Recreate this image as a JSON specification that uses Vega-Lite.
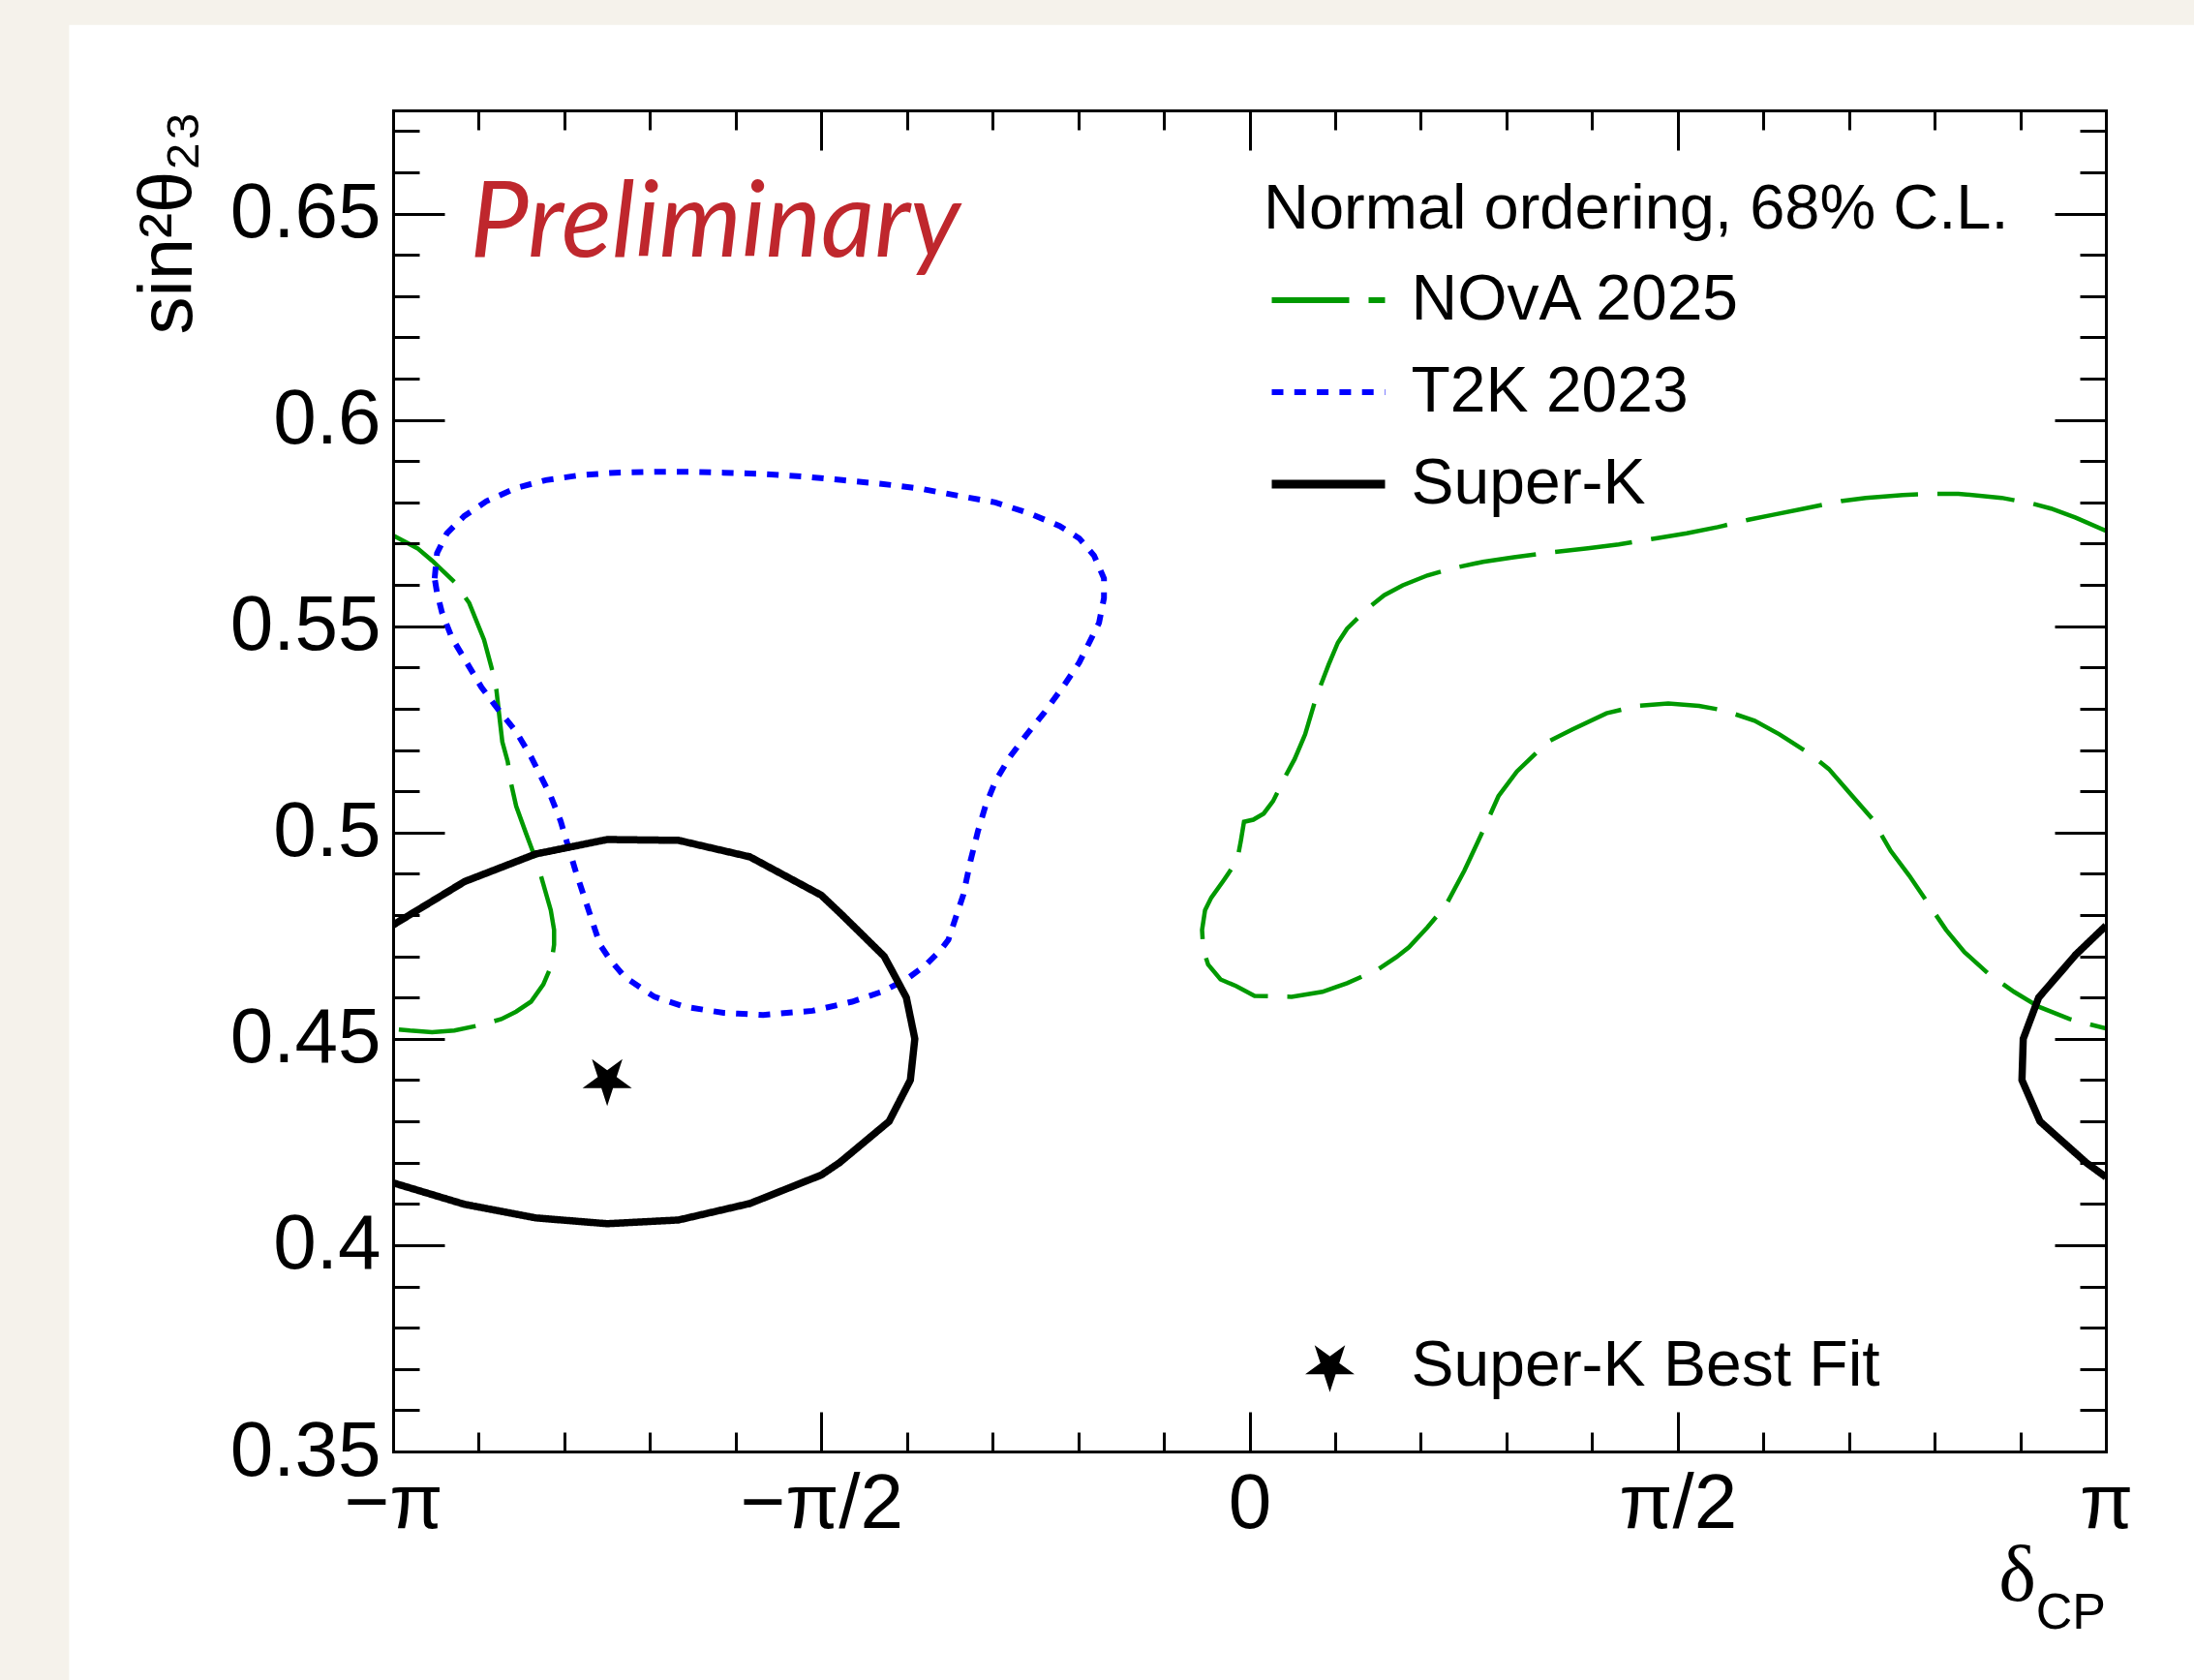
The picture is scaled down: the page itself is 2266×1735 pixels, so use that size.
{
  "$schema": "https://vega.github.io/schema/vega-lite/v6.json",
  "width": 1769,
  "height": 1385,
  "autosize": {"type": "none"},
  "padding": {"left": 406, "top": 114, "right": 91, "bottom": 236},
  "background": "#f5f2eb",
  "datasets": {
    "curves": [
      {"s":"NOvA 2025","p":"n1","k":0,"x":-3.1416,"y":0.572},
      {"s":"NOvA 2025","p":"n1","k":1,"x":-3.0527,"y":0.5689},
      {"s":"NOvA 2025","p":"n1","k":2,"x":-2.9987,"y":0.5659},
      {"s":"NOvA 2025","p":"n1","k":3,"x":-2.9167,"y":0.5607},
      {"s":"NOvA 2025","p":"n1","k":4,"x":-2.8623,"y":0.5556},
      {"s":"NOvA 2025","p":"n1","k":5,"x":-2.808,"y":0.5467},
      {"s":"NOvA 2025","p":"n1","k":6,"x":-2.7806,"y":0.54},
      {"s":"NOvA 2025","p":"n1","k":7,"x":-2.7627,"y":0.5346},
      {"s":"NOvA 2025","p":"n1","k":8,"x":-2.7536,"y":0.5292},
      {"s":"NOvA 2025","p":"n1","k":9,"x":-2.741,"y":0.522},
      {"s":"NOvA 2025","p":"n1","k":10,"x":-2.7212,"y":0.5172},
      {"s":"NOvA 2025","p":"n1","k":11,"x":-2.7084,"y":0.5118},
      {"s":"NOvA 2025","p":"n1","k":12,"x":-2.6901,"y":0.5064},
      {"s":"NOvA 2025","p":"n1","k":13,"x":-2.654,"y":0.4998},
      {"s":"NOvA 2025","p":"n1","k":14,"x":-2.627,"y":0.495},
      {"s":"NOvA 2025","p":"n1","k":15,"x":-2.5997,"y":0.4896},
      {"s":"NOvA 2025","p":"n1","k":16,"x":-2.5632,"y":0.4812},
      {"s":"NOvA 2025","p":"n1","k":17,"x":-2.551,"y":0.4764},
      {"s":"NOvA 2025","p":"n1","k":18,"x":-2.551,"y":0.4728},
      {"s":"NOvA 2025","p":"n1","k":19,"x":-2.5632,"y":0.4674},
      {"s":"NOvA 2025","p":"n1","k":20,"x":-2.5905,"y":0.4632},
      {"s":"NOvA 2025","p":"n1","k":21,"x":-2.6358,"y":0.459},
      {"s":"NOvA 2025","p":"n1","k":22,"x":-2.6901,"y":0.4566},
      {"s":"NOvA 2025","p":"n1","k":23,"x":-2.7445,"y":0.4548},
      {"s":"NOvA 2025","p":"n1","k":24,"x":-2.8174,"y":0.4534},
      {"s":"NOvA 2025","p":"n1","k":25,"x":-2.9167,"y":0.452},
      {"s":"NOvA 2025","p":"n1","k":26,"x":-2.9987,"y":0.4516},
      {"s":"NOvA 2025","p":"n1","k":27,"x":-3.0797,"y":0.452},
      {"s":"NOvA 2025","p":"n1","k":28,"x":-3.1416,"y":0.4524},

      {"s":"NOvA 2025","p":"n2","k":0,"x":3.1416,"y":0.5731},
      {"s":"NOvA 2025","p":"n2","k":1,"x":3.031,"y":0.5763},
      {"s":"NOvA 2025","p":"n2","k":2,"x":2.9405,"y":0.5785},
      {"s":"NOvA 2025","p":"n2","k":3,"x":2.8723,"y":0.5797},
      {"s":"NOvA 2025","p":"n2","k":4,"x":2.759,"y":0.5811},
      {"s":"NOvA 2025","p":"n2","k":5,"x":2.6006,"y":0.5821},
      {"s":"NOvA 2025","p":"n2","k":6,"x":2.5101,"y":0.5821},
      {"s":"NOvA 2025","p":"n2","k":7,"x":2.3967,"y":0.5818},
      {"s":"NOvA 2025","p":"n2","k":8,"x":2.2607,"y":0.5811},
      {"s":"NOvA 2025","p":"n2","k":9,"x":2.1702,"y":0.5803},
      {"s":"NOvA 2025","p":"n2","k":10,"x":2.0345,"y":0.5785},
      {"s":"NOvA 2025","p":"n2","k":11,"x":1.9211,"y":0.577},
      {"s":"NOvA 2025","p":"n2","k":12,"x":1.8306,"y":0.5758},
      {"s":"NOvA 2025","p":"n2","k":13,"x":1.7172,"y":0.574},
      {"s":"NOvA 2025","p":"n2","k":14,"x":1.6041,"y":0.5725},
      {"s":"NOvA 2025","p":"n2","k":15,"x":1.4907,"y":0.5713},
      {"s":"NOvA 2025","p":"n2","k":16,"x":1.3547,"y":0.5698},
      {"s":"NOvA 2025","p":"n2","k":17,"x":1.2412,"y":0.5689},
      {"s":"NOvA 2025","p":"n2","k":18,"x":1.1058,"y":0.5679},
      {"s":"NOvA 2025","p":"n2","k":19,"x":0.9698,"y":0.5667},
      {"s":"NOvA 2025","p":"n2","k":20,"x":0.8564,"y":0.5656},
      {"s":"NOvA 2025","p":"n2","k":21,"x":0.743,"y":0.564},
      {"s":"NOvA 2025","p":"n2","k":22,"x":0.6525,"y":0.5623},
      {"s":"NOvA 2025","p":"n2","k":23,"x":0.562,"y":0.5599},
      {"s":"NOvA 2025","p":"n2","k":24,"x":0.4942,"y":0.5575},
      {"s":"NOvA 2025","p":"n2","k":25,"x":0.4263,"y":0.5539},
      {"s":"NOvA 2025","p":"n2","k":26,"x":0.3581,"y":0.5494},
      {"s":"NOvA 2025","p":"n2","k":27,"x":0.3242,"y":0.546},
      {"s":"NOvA 2025","p":"n2","k":28,"x":0.2903,"y":0.5407},
      {"s":"NOvA 2025","p":"n2","k":29,"x":0.2447,"y":0.5328},
      {"s":"NOvA 2025","p":"n2","k":30,"x":0.2042,"y":0.5238},
      {"s":"NOvA 2025","p":"n2","k":31,"x":0.1656,"y":0.5178},
      {"s":"NOvA 2025","p":"n2","k":32,"x":0.1316,"y":0.5136},
      {"s":"NOvA 2025","p":"n2","k":33,"x":0.0864,"y":0.5076},
      {"s":"NOvA 2025","p":"n2","k":34,"x":0.0522,"y":0.5046},
      {"s":"NOvA 2025","p":"n2","k":35,"x":0.0138,"y":0.5031},
      {"s":"NOvA 2025","p":"n2","k":36,"x":-0.0201,"y":0.5026},
      {"s":"NOvA 2025","p":"n2","k":37,"x":-0.0317,"y":0.498},
      {"s":"NOvA 2025","p":"n2","k":38,"x":-0.0452,"y":0.4932},
      {"s":"NOvA 2025","p":"n2","k":39,"x":-0.0949,"y":0.4884},
      {"s":"NOvA 2025","p":"n2","k":40,"x":-0.1404,"y":0.4842},
      {"s":"NOvA 2025","p":"n2","k":41,"x":-0.163,"y":0.4812},
      {"s":"NOvA 2025","p":"n2","k":42,"x":-0.174,"y":0.4764},
      {"s":"NOvA 2025","p":"n2","k":43,"x":-0.1696,"y":0.4716},
      {"s":"NOvA 2025","p":"n2","k":44,"x":-0.1517,"y":0.468},
      {"s":"NOvA 2025","p":"n2","k":45,"x":-0.1062,"y":0.4644},
      {"s":"NOvA 2025","p":"n2","k":46,"x":-0.0496,"y":0.4628},
      {"s":"NOvA 2025","p":"n2","k":47,"x":0.0185,"y":0.4604},
      {"s":"NOvA 2025","p":"n2","k":48,"x":0.1543,"y":0.4602},
      {"s":"NOvA 2025","p":"n2","k":49,"x":0.2673,"y":0.4614},
      {"s":"NOvA 2025","p":"n2","k":50,"x":0.3581,"y":0.4635},
      {"s":"NOvA 2025","p":"n2","k":51,"x":0.4712,"y":0.4668},
      {"s":"NOvA 2025","p":"n2","k":52,"x":0.5391,"y":0.4698},
      {"s":"NOvA 2025","p":"n2","k":53,"x":0.5847,"y":0.4722},
      {"s":"NOvA 2025","p":"n2","k":54,"x":0.6525,"y":0.477},
      {"s":"NOvA 2025","p":"n2","k":55,"x":0.7207,"y":0.4824},
      {"s":"NOvA 2025","p":"n2","k":56,"x":0.7885,"y":0.4908},
      {"s":"NOvA 2025","p":"n2","k":57,"x":0.8564,"y":0.5004},
      {"s":"NOvA 2025","p":"n2","k":58,"x":0.9133,"y":0.5088},
      {"s":"NOvA 2025","p":"n2","k":59,"x":0.9811,"y":0.5148},
      {"s":"NOvA 2025","p":"n2","k":60,"x":1.0942,"y":0.522},
      {"s":"NOvA 2025","p":"n2","k":61,"x":1.185,"y":0.525},
      {"s":"NOvA 2025","p":"n2","k":62,"x":1.3097,"y":0.5289},
      {"s":"NOvA 2025","p":"n2","k":63,"x":1.4228,"y":0.5307},
      {"s":"NOvA 2025","p":"n2","k":64,"x":1.5362,"y":0.5313},
      {"s":"NOvA 2025","p":"n2","k":65,"x":1.649,"y":0.5307},
      {"s":"NOvA 2025","p":"n2","k":66,"x":1.7398,"y":0.5296},
      {"s":"NOvA 2025","p":"n2","k":67,"x":1.8529,"y":0.5271},
      {"s":"NOvA 2025","p":"n2","k":68,"x":1.944,"y":0.5238},
      {"s":"NOvA 2025","p":"n2","k":69,"x":2.0568,"y":0.519},
      {"s":"NOvA 2025","p":"n2","k":70,"x":2.125,"y":0.5154},
      {"s":"NOvA 2025","p":"n2","k":71,"x":2.2041,"y":0.5094},
      {"s":"NOvA 2025","p":"n2","k":72,"x":2.2836,"y":0.5034},
      {"s":"NOvA 2025","p":"n2","k":73,"x":2.3518,"y":0.4956},
      {"s":"NOvA 2025","p":"n2","k":74,"x":2.4196,"y":0.4896},
      {"s":"NOvA 2025","p":"n2","k":75,"x":2.4875,"y":0.483},
      {"s":"NOvA 2025","p":"n2","k":76,"x":2.5554,"y":0.4764},
      {"s":"NOvA 2025","p":"n2","k":77,"x":2.6232,"y":0.471},
      {"s":"NOvA 2025","p":"n2","k":78,"x":2.714,"y":0.4656},
      {"s":"NOvA 2025","p":"n2","k":79,"x":2.8045,"y":0.4614},
      {"s":"NOvA 2025","p":"n2","k":80,"x":2.895,"y":0.4578},
      {"s":"NOvA 2025","p":"n2","k":81,"x":3.0084,"y":0.4548},
      {"s":"NOvA 2025","p":"n2","k":82,"x":3.1416,"y":0.4525},

      {"s":"T2K 2023","p":"t","k":0,"x":-2.9892,"y":0.5616},
      {"s":"T2K 2023","p":"t","k":1,"x":-2.9804,"y":0.5677},
      {"s":"T2K 2023","p":"t","k":2,"x":-2.9443,"y":0.5725},
      {"s":"T2K 2023","p":"t","k":3,"x":-2.8805,"y":0.5767},
      {"s":"T2K 2023","p":"t","k":4,"x":-2.7991,"y":0.5803},
      {"s":"T2K 2023","p":"t","k":5,"x":-2.6901,"y":0.5835},
      {"s":"T2K 2023","p":"t","k":6,"x":-2.5814,"y":0.5854},
      {"s":"T2K 2023","p":"t","k":7,"x":-2.4545,"y":0.5866},
      {"s":"T2K 2023","p":"t","k":8,"x":-2.3279,"y":0.5872},
      {"s":"T2K 2023","p":"t","k":9,"x":-2.1831,"y":0.5874},
      {"s":"T2K 2023","p":"t","k":10,"x":-2.0562,"y":0.5874},
      {"s":"T2K 2023","p":"t","k":11,"x":-1.9292,"y":0.5872},
      {"s":"T2K 2023","p":"t","k":12,"x":-1.7841,"y":0.5869},
      {"s":"T2K 2023","p":"t","k":13,"x":-1.639,"y":0.5863},
      {"s":"T2K 2023","p":"t","k":14,"x":-1.4941,"y":0.5854},
      {"s":"T2K 2023","p":"t","k":15,"x":-1.3493,"y":0.5845},
      {"s":"T2K 2023","p":"t","k":16,"x":-1.2045,"y":0.5833},
      {"s":"T2K 2023","p":"t","k":17,"x":-1.0597,"y":0.5815},
      {"s":"T2K 2023","p":"t","k":18,"x":-0.9324,"y":0.58},
      {"s":"T2K 2023","p":"t","k":19,"x":-0.8055,"y":0.5773},
      {"s":"T2K 2023","p":"t","k":20,"x":-0.6968,"y":0.5743},
      {"s":"T2K 2023","p":"t","k":21,"x":-0.6245,"y":0.5713},
      {"s":"T2K 2023","p":"t","k":22,"x":-0.5702,"y":0.5671},
      {"s":"T2K 2023","p":"t","k":23,"x":-0.5338,"y":0.5616},
      {"s":"T2K 2023","p":"t","k":24,"x":-0.5338,"y":0.5568},
      {"s":"T2K 2023","p":"t","k":25,"x":-0.552,"y":0.5508},
      {"s":"T2K 2023","p":"t","k":26,"x":-0.5881,"y":0.546},
      {"s":"T2K 2023","p":"t","k":27,"x":-0.6245,"y":0.5412},
      {"s":"T2K 2023","p":"t","k":28,"x":-0.6789,"y":0.5358},
      {"s":"T2K 2023","p":"t","k":29,"x":-0.7512,"y":0.5292},
      {"s":"T2K 2023","p":"t","k":30,"x":-0.8237,"y":0.5232},
      {"s":"T2K 2023","p":"t","k":31,"x":-0.8781,"y":0.5184},
      {"s":"T2K 2023","p":"t","k":32,"x":-0.9324,"y":0.5124},
      {"s":"T2K 2023","p":"t","k":33,"x":-0.9686,"y":0.5064},
      {"s":"T2K 2023","p":"t","k":34,"x":-0.9959,"y":0.5004},
      {"s":"T2K 2023","p":"t","k":35,"x":-1.0232,"y":0.4932},
      {"s":"T2K 2023","p":"t","k":36,"x":-1.0502,"y":0.4848},
      {"s":"T2K 2023","p":"t","k":37,"x":-1.0776,"y":0.4794},
      {"s":"T2K 2023","p":"t","k":38,"x":-1.1046,"y":0.474},
      {"s":"T2K 2023","p":"t","k":39,"x":-1.1319,"y":0.4716},
      {"s":"T2K 2023","p":"t","k":40,"x":-1.1863,"y":0.468},
      {"s":"T2K 2023","p":"t","k":41,"x":-1.2588,"y":0.4644},
      {"s":"T2K 2023","p":"t","k":42,"x":-1.3493,"y":0.4614},
      {"s":"T2K 2023","p":"t","k":43,"x":-1.458,"y":0.459},
      {"s":"T2K 2023","p":"t","k":44,"x":-1.6028,"y":0.4568},
      {"s":"T2K 2023","p":"t","k":45,"x":-1.7841,"y":0.4558},
      {"s":"T2K 2023","p":"t","k":46,"x":-1.9292,"y":0.4563},
      {"s":"T2K 2023","p":"t","k":47,"x":-2.0744,"y":0.4578},
      {"s":"T2K 2023","p":"t","k":48,"x":-2.1831,"y":0.4602},
      {"s":"T2K 2023","p":"t","k":49,"x":-2.2918,"y":0.465},
      {"s":"T2K 2023","p":"t","k":50,"x":-2.3458,"y":0.4692},
      {"s":"T2K 2023","p":"t","k":51,"x":-2.3823,"y":0.4728},
      {"s":"T2K 2023","p":"t","k":52,"x":-2.4005,"y":0.4764},
      {"s":"T2K 2023","p":"t","k":53,"x":-2.4366,"y":0.4836},
      {"s":"T2K 2023","p":"t","k":54,"x":-2.4727,"y":0.4908},
      {"s":"T2K 2023","p":"t","k":55,"x":-2.5001,"y":0.4968},
      {"s":"T2K 2023","p":"t","k":56,"x":-2.5271,"y":0.5028},
      {"s":"T2K 2023","p":"t","k":57,"x":-2.5632,"y":0.5088},
      {"s":"T2K 2023","p":"t","k":58,"x":-2.5997,"y":0.5136},
      {"s":"T2K 2023","p":"t","k":59,"x":-2.6358,"y":0.5184},
      {"s":"T2K 2023","p":"t","k":60,"x":-2.6901,"y":0.5244},
      {"s":"T2K 2023","p":"t","k":61,"x":-2.7627,"y":0.5304},
      {"s":"T2K 2023","p":"t","k":62,"x":-2.8174,"y":0.5352},
      {"s":"T2K 2023","p":"t","k":63,"x":-2.8717,"y":0.5412},
      {"s":"T2K 2023","p":"t","k":64,"x":-2.9261,"y":0.5472},
      {"s":"T2K 2023","p":"t","k":65,"x":-2.9622,"y":0.5533},
      {"s":"T2K 2023","p":"t","k":66,"x":-2.9804,"y":0.5581},
      {"s":"T2K 2023","p":"t","k":67,"x":-2.9892,"y":0.5616},

      {"s":"Super-K","p":"s1","k":0,"x":-3.1416,"y":0.4776},
      {"s":"Super-K","p":"s1","k":1,"x":-2.8798,"y":0.4881},
      {"s":"Super-K","p":"s1","k":2,"x":-2.618,"y":0.4948},
      {"s":"Super-K","p":"s1","k":3,"x":-2.3562,"y":0.4983},
      {"s":"Super-K","p":"s1","k":4,"x":-2.0944,"y":0.4981},
      {"s":"Super-K","p":"s1","k":5,"x":-1.8326,"y":0.4941},
      {"s":"Super-K","p":"s1","k":6,"x":-1.5708,"y":0.4848},
      {"s":"Super-K","p":"s1","k":7,"x":-1.4941,"y":0.48},
      {"s":"Super-K","p":"s1","k":8,"x":-1.3402,"y":0.47},
      {"s":"Super-K","p":"s1","k":9,"x":-1.309,"y":0.4662},
      {"s":"Super-K","p":"s1","k":10,"x":-1.2588,"y":0.46},
      {"s":"Super-K","p":"s1","k":11,"x":-1.2277,"y":0.45},
      {"s":"Super-K","p":"s1","k":12,"x":-1.2441,"y":0.44},
      {"s":"Super-K","p":"s1","k":13,"x":-1.322,"y":0.43},
      {"s":"Super-K","p":"s1","k":14,"x":-1.5036,"y":0.42},
      {"s":"Super-K","p":"s1","k":15,"x":-1.5708,"y":0.417},
      {"s":"Super-K","p":"s1","k":16,"x":-1.8326,"y":0.4101},
      {"s":"Super-K","p":"s1","k":17,"x":-2.0944,"y":0.4061},
      {"s":"Super-K","p":"s1","k":18,"x":-2.3562,"y":0.4052},
      {"s":"Super-K","p":"s1","k":19,"x":-2.618,"y":0.4066},
      {"s":"Super-K","p":"s1","k":20,"x":-2.8798,"y":0.4099},
      {"s":"Super-K","p":"s1","k":21,"x":-3.1416,"y":0.4151},

      {"s":"Super-K","p":"s2","k":0,"x":3.1416,"y":0.4774},
      {"s":"Super-K","p":"s2","k":1,"x":3.031,"y":0.4704},
      {"s":"Super-K","p":"s2","k":2,"x":2.895,"y":0.46},
      {"s":"Super-K","p":"s2","k":3,"x":2.8384,"y":0.45},
      {"s":"Super-K","p":"s2","k":4,"x":2.8337,"y":0.44},
      {"s":"Super-K","p":"s2","k":5,"x":2.8997,"y":0.43},
      {"s":"Super-K","p":"s2","k":6,"x":3.0693,"y":0.42},
      {"s":"Super-K","p":"s2","k":7,"x":3.1416,"y":0.4165}
    ],
    "fit": [{"x": -2.3562, "y": 0.44, "label": "Super-K Best Fit"}]
  },
  "resolve": {"axis": {"x": "independent", "y": "independent"}},
  "layer": [
    {
      "data": {"values": [{}]},
      "mark": {"type": "rect", "fill": "white"},
      "encoding": {
        "x": {"datum": -4.33, "type": "quantitative", "axis": null, "scale": {"domain": [-3.14159265, 3.14159265], "nice": false, "zero": false}},
        "x2": {"datum": 20},
        "y": {"datum": 0.6957, "type": "quantitative", "axis": null, "scale": {"domain": [0.35, 0.675], "nice": false, "zero": false}},
        "y2": {"datum": -1}
      }
    },
    {
      "data": {"name": "curves"},
      "transform": [{"filter": "datum.s === 'NOvA 2025'"}],
      "mark": {"type": "line", "clip": true, "strokeCap": "butt", "strokeJoin": "miter", "strokeWidth": 4.5},
      "encoding": {
        "x": {"field": "x", "type": "quantitative", "axis": null},
        "y": {"field": "y", "type": "quantitative", "axis": null},
        "detail": {"field": "p"},
        "order": {"field": "k", "type": "quantitative"},
        "color": {
          "field": "s", "type": "nominal",
          "scale": {"domain": ["NOvA 2025", "T2K 2023", "Super-K"], "range": ["#009900", "#0000ff", "#000000"]},
          "legend": {
            "title": "Normal ordering, 68% C.L.", "orient": "none", "legendX": 899, "legendY": 71, "padding": 0,
            "titleFontSize": 65, "titleFont": "Liberation Sans", "titleFontWeight": "normal", "titleColor": "black", "titlePadding": 27, "titleLimit": 3000,
            "labelFontSize": 66, "labelFont": "Liberation Sans", "labelColor": "black", "labelLimit": 3000, "labelOffset": 24,
            "symbolType": "stroke", "symbolSize": 13689, "symbolStrokeWidth": 6, "symbolOffset": 5.5,
            "clipHeight": 66, "rowPadding": 29,
            "encode": {"symbols": {"update": {"strokeWidth": {"signal": "(datum.value === 'Super-K' ? 9 : 6)"}}}}
          }
        },
        "strokeDash": {
          "field": "s", "type": "nominal",
          "scale": {"domain": ["NOvA 2025", "T2K 2023", "Super-K"], "range": [[80, 20], [12, 11.3], [1, 0]]},
          "legend": {
            "title": "Normal ordering, 68% C.L.", "orient": "none", "legendX": 899, "legendY": 71, "padding": 0,
            "titleFontSize": 65, "titleFont": "Liberation Sans", "titleFontWeight": "normal", "titleColor": "black", "titlePadding": 27, "titleLimit": 3000,
            "labelFontSize": 66, "labelFont": "Liberation Sans", "labelColor": "black", "labelLimit": 3000, "labelOffset": 24,
            "symbolType": "stroke", "symbolSize": 13689, "symbolStrokeWidth": 6, "symbolOffset": 5.5,
            "clipHeight": 66, "rowPadding": 29,
            "encode": {"symbols": {"update": {"strokeWidth": {"signal": "(datum.value === 'Super-K' ? 9 : 6)"}}}}
          }
        }
      }
    },
    {
      "data": {"name": "curves"},
      "transform": [{"filter": "datum.s === 'T2K 2023'"}],
      "mark": {"type": "line", "clip": true, "strokeCap": "butt", "strokeJoin": "miter", "strokeWidth": 6},
      "encoding": {
        "x": {"field": "x", "type": "quantitative", "axis": null},
        "y": {"field": "y", "type": "quantitative", "axis": null},
        "detail": {"field": "p"},
        "order": {"field": "k", "type": "quantitative"},
        "color": {"field": "s", "type": "nominal"},
        "strokeDash": {"field": "s", "type": "nominal"}
      }
    },
    {
      "data": {"name": "curves"},
      "transform": [{"filter": "datum.s === 'Super-K'"}],
      "mark": {"type": "line", "clip": true, "strokeCap": "butt", "strokeJoin": "miter", "strokeWidth": 7.5},
      "encoding": {
        "x": {"field": "x", "type": "quantitative", "axis": null},
        "y": {"field": "y", "type": "quantitative", "axis": null},
        "detail": {"field": "p"},
        "order": {"field": "k", "type": "quantitative"},
        "color": {"field": "s", "type": "nominal"},
        "strokeDash": {"field": "s", "type": "nominal"}
      }
    },
    {
      "data": {"name": "fit"},
      "mark": {"type": "point", "filled": true, "color": "black", "size": 2873, "strokeWidth": 0, "opacity": 1},
      "encoding": {
        "x": {"field": "x", "type": "quantitative", "axis": null},
        "y": {"field": "y", "type": "quantitative", "axis": null},
        "shape": {
          "field": "label", "type": "nominal",
          "scale": {"range": ["M0,1L0.2245,0.309L0.951,0.309L0.363,-0.118L0.588,-0.809L0,-0.382L-0.588,-0.809L-0.363,-0.118L-0.951,0.309L-0.2245,0.309Z"]},
          "legend": {
            "title": null, "orient": "none", "legendX": 934.5, "legendY": 1264, "padding": 0,
            "symbolSize": 2873, "symbolFillColor": "black", "symbolStrokeWidth": 0, "symbolOffset": 0,
            "labelFontSize": 66, "labelFont": "Liberation Sans", "labelColor": "black", "labelLimit": 3000, "labelOffset": 51,
            "clipHeight": 66
          }
        }
      }
    },
    {
      "data": {"values": [{"t": "Preliminary"}]},
      "mark": {"type": "text", "font": "Lato", "fontStyle": "italic", "fontSize": 108, "color": "#bf272d", "align": "left", "baseline": "alphabetic"},
      "encoding": {
        "x": {"datum": -2.86, "type": "quantitative", "axis": null},
        "y": {"datum": 0.6395, "type": "quantitative", "axis": null},
        "text": {"field": "t"}
      }
    },
    {
      "data": {"values": [{"t": "δ"}]},
      "mark": {"type": "text", "font": "Liberation Serif", "fontSize": 82, "color": "black", "align": "right", "baseline": "alphabetic", "dx": -72, "dy": 154},
      "encoding": {
        "x": {"datum": 3.14159265, "type": "quantitative", "axis": null},
        "y": {"datum": 0.35, "type": "quantitative", "axis": null},
        "text": {"field": "t"}
      }
    },
    {
      "data": {"values": [{"t": "CP"}]},
      "mark": {"type": "text", "font": "Liberation Sans", "fontSize": 52, "color": "black", "align": "right", "baseline": "alphabetic", "dx": 0, "dy": 183},
      "encoding": {
        "x": {"datum": 3.14159265, "type": "quantitative", "axis": null},
        "y": {"datum": 0.35, "type": "quantitative", "axis": null},
        "text": {"field": "t"}
      }
    },
    {
      "data": {"name": "fit"},
      "mark": {"type": "point", "opacity": 0},
      "encoding": {
        "x": {"field": "x", "type": "quantitative", "axis": {
          "orient": "bottom", "title": null, "zindex": 2, "values": [-3.14159265, -1.57079633, 0, 1.57079633, 3.14159265],
          "tickSize": -41, "labelPadding": 56,
          "labelExpr": "datum.value < -3 ? '−π' : datum.value < -1 ? '−π/2' : datum.value < 1 ? '0' : datum.value < 3 ? 'π/2' : 'π'"
        }},
        "y": {"field": "y", "type": "quantitative", "axis": {
          "orient": "left", "zindex": 2, "values": [0.35, 0.4, 0.45, 0.5, 0.55, 0.6, 0.65], "format": "~g",
          "tickSize": -53, "labelPadding": 66,
          "title": "sin²θ₂₃", "titleFontSize": 78, "titleFont": "Liberation Sans", "titleFontWeight": "normal", "titleColor": "black",
          "titleAnchor": "end", "titlePadding": 24
        }}
      }
    },
    {
      "data": {"name": "fit"},
      "mark": {"type": "point", "opacity": 0},
      "encoding": {
        "x": {"field": "x", "type": "quantitative", "axis": {
          "orient": "bottom", "title": null, "zindex": 2, "labels": false, "domain": false, "tickSize": -20,
          "values": [-2.82743339, -2.51327412, -2.19911486, -1.88495559, -1.25663706, -0.9424778, -0.62831853, -0.31415927, 0.31415927, 0.62831853, 0.9424778, 1.25663706, 1.88495559, 2.19911486, 2.51327412, 2.82743339]
        }},
        "y": {"field": "y", "type": "quantitative", "axis": {
          "orient": "left", "title": null, "zindex": 2, "labels": false, "domain": false, "tickSize": -27,
          "values": [0.36, 0.37, 0.38, 0.39, 0.41, 0.42, 0.43, 0.44, 0.46, 0.47, 0.48, 0.49, 0.51, 0.52, 0.53, 0.54, 0.56, 0.57, 0.58, 0.59, 0.61, 0.62, 0.63, 0.64, 0.66, 0.67]
        }}
      }
    },
    {
      "data": {"name": "fit"},
      "mark": {"type": "point", "opacity": 0},
      "encoding": {
        "x": {"field": "x", "type": "quantitative", "axis": {
          "orient": "top", "title": null, "zindex": 2, "labels": false, "tickSize": -41,
          "values": [-3.14159265, -1.57079633, 0, 1.57079633, 3.14159265]
        }},
        "y": {"field": "y", "type": "quantitative", "axis": {
          "orient": "right", "title": null, "zindex": 2, "labels": false, "tickSize": -53,
          "values": [0.35, 0.4, 0.45, 0.5, 0.55, 0.6, 0.65]
        }}
      }
    },
    {
      "data": {"name": "fit"},
      "mark": {"type": "point", "opacity": 0},
      "encoding": {
        "x": {"field": "x", "type": "quantitative", "axis": {
          "orient": "top", "title": null, "zindex": 2, "labels": false, "domain": false, "tickSize": -20,
          "values": [-2.82743339, -2.51327412, -2.19911486, -1.88495559, -1.25663706, -0.9424778, -0.62831853, -0.31415927, 0.31415927, 0.62831853, 0.9424778, 1.25663706, 1.88495559, 2.19911486, 2.51327412, 2.82743339]
        }},
        "y": {"field": "y", "type": "quantitative", "axis": {
          "orient": "right", "title": null, "zindex": 2, "labels": false, "domain": false, "tickSize": -27,
          "values": [0.36, 0.37, 0.38, 0.39, 0.41, 0.42, 0.43, 0.44, 0.46, 0.47, 0.48, 0.49, 0.51, 0.52, 0.53, 0.54, 0.56, 0.57, 0.58, 0.59, 0.61, 0.62, 0.63, 0.64, 0.66, 0.67]
        }}
      }
    }
  ],
  "config": {
    "view": {"stroke": null},
    "font": "Liberation Sans",
    "axis": {
      "zindex": 2, "grid": false,
      "domainColor": "black", "domainWidth": 3, "domainCap": "square",
      "tickColor": "black", "tickWidth": 3,
      "labelColor": "black", "labelFont": "Liberation Sans", "labelFontSize": 80,
      "labelFlush": false, "labelOverlap": false, "labelBound": false
    }
  }
}
